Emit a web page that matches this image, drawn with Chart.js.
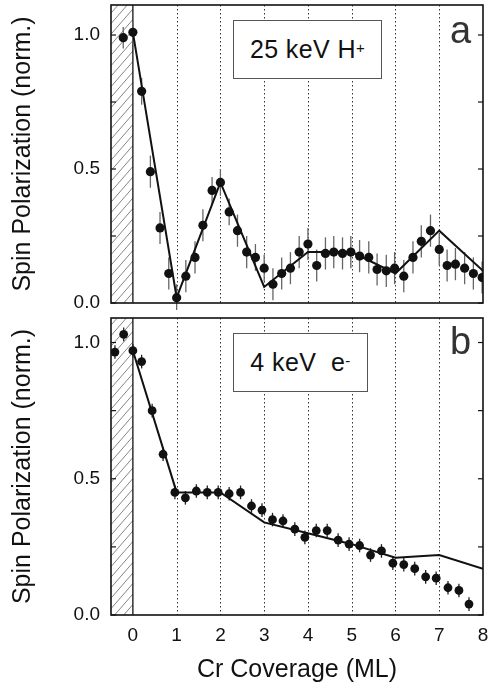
<!DOCTYPE html>
<html><head><meta charset="utf-8">
<script src="https://cdn.jsdelivr.net/npm/chart.js@4"></script>
<style>
html,body{margin:0;padding:0;background:#fff;}
body{width:489px;height:687px;overflow:hidden;position:relative;font-family:"Liberation Sans",Arial,Helvetica,sans-serif;}
canvas{position:absolute;left:0;}
#ca{top:0;}
#cb{top:310px;}
.box{position:absolute;border:1.5px solid #555;background:#fff;color:#111;font-size:25px;letter-spacing:0.4px;display:flex;align-items:center;justify-content:center;box-sizing:border-box;}
.box sup{font-size:15px;vertical-align:top;position:relative;top:-2px;}
.lab{position:absolute;font-size:38px;color:#333;line-height:1;}
</style></head>
<body>
<canvas id="ca" width="489" height="310"></canvas>
<canvas id="cb" width="489" height="377"></canvas>
<div class="box" style="left:233px;top:20px;width:149px;height:59px;">25 keV H<sup>+</sup></div>
<div class="box" style="left:233px;top:333px;width:135px;height:59px;">4 keV&nbsp;&nbsp;e<sup>-</sup></div>
<div class="lab" style="left:450px;top:11px;">a</div>
<div class="lab" style="left:450px;top:322px;">b</div>
<script>
// ---- Panel a: 25 keV H+ ----
const xA = [-0.22,0,0.2,0.4,0.62,0.82,1.0,1.21,1.42,1.6,1.81,2.0,2.2,2.39,2.6,2.8,3.0,3.2,3.4,3.6,3.8,4.0,4.2,4.4,4.59,4.79,4.98,5.18,5.39,5.58,5.79,5.98,6.19,6.4,6.59,6.8,7.0,7.18,7.37,7.58,7.78,7.98];
const yA = [0.99,1.01,0.79,0.49,0.28,0.11,0.02,0.10,0.17,0.29,0.42,0.45,0.34,0.27,0.19,0.17,0.13,0.07,0.11,0.13,0.19,0.22,0.14,0.185,0.19,0.185,0.19,0.175,0.17,0.125,0.12,0.13,0.10,0.17,0.23,0.27,0.20,0.14,0.145,0.13,0.11,0.095];
const errA = [0.04,0.04,0.05,0.06,0.06,0.06,0.05,0.06,0.06,0.06,0.05,0.05,0.05,0.06,0.06,0.05,0.05,0.06,0.06,0.06,0.06,0.06,0.06,0.06,0.06,0.06,0.06,0.06,0.06,0.06,0.06,0.06,0.06,0.06,0.06,0.06,0.06,0.06,0.06,0.06,0.06,0.06];
const lineXA = [0,1,2,3,4,5,6,7,8];
const lineYA = [1.01,0.02,0.45,0.06,0.19,0.19,0.11,0.27,0.12];
// ---- Panel b: 4 keV e- ----
const xB = [-0.41,-0.21,0,0.2,0.44,0.69,0.96,1.2,1.45,1.7,1.95,2.2,2.46,2.71,2.95,3.19,3.43,3.7,3.93,4.19,4.44,4.69,4.94,5.18,5.43,5.68,5.94,6.19,6.44,6.69,6.93,7.2,7.45,7.68];
const yB = [0.965,1.03,0.97,0.93,0.75,0.59,0.45,0.43,0.455,0.45,0.45,0.445,0.45,0.40,0.385,0.35,0.345,0.315,0.285,0.31,0.31,0.275,0.26,0.255,0.22,0.235,0.19,0.185,0.17,0.14,0.135,0.10,0.09,0.04];
const errB = [0.025,0.025,0.025,0.025,0.025,0.025,0.025,0.025,0.025,0.025,0.025,0.025,0.025,0.025,0.025,0.025,0.025,0.025,0.025,0.025,0.025,0.025,0.025,0.025,0.025,0.025,0.025,0.025,0.025,0.025,0.025,0.025,0.025,0.025];
const lineXB = [0,1,2,3,4,5,6,7,8];
const lineYB = [0.97,0.45,0.45,0.34,0.30,0.26,0.21,0.22,0.17];
// ---- axes ----
const xTicks = [0,1,2,3,4,5,6,7,8];
const gridX = [1,2,3,4,5,6,7];
const yTickLabels = [0,0.5,1.0];
const yMinorTicks = [0,0.25,0.5,0.75,1.0];
const yTitle = 'Spin Polarization (norm.)';
const xTitle = 'Cr Coverage (ML)';

const FONT = '"Liberation Sans", Arial, Helvetica, sans-serif';

const framePlugin = {
  id: 'frame',
  beforeDatasetsDraw(chart, args, opts) {
    const {ctx, chartArea: {left, right, top, bottom}, scales: {x, y}} = chart;
    const x0 = x.getPixelForValue(0);
    ctx.save();
    ctx.save();
    ctx.beginPath(); ctx.rect(left, top, x0 - left, bottom - top); ctx.clip();
    ctx.strokeStyle = '#666'; ctx.lineWidth = 0.8;
    const w = x0 - left, rise = w * 1.15;
    for (let k = bottom + rise; k > top - 5; k -= 10.5) {
      ctx.beginPath(); ctx.moveTo(left, k); ctx.lineTo(x0, k - rise); ctx.stroke();
    }
    ctx.restore();
    ctx.strokeStyle = '#333'; ctx.lineWidth = 1; ctx.setLineDash([1.5, 2.5]);
    gridX.forEach(v => {
      const px = Math.round(x.getPixelForValue(v)) + 0.5;
      ctx.beginPath(); ctx.moveTo(px, top); ctx.lineTo(px, bottom); ctx.stroke();
    });
    ctx.setLineDash([]);
    ctx.strokeStyle = '#111'; ctx.lineWidth = 1.3;
    ctx.beginPath(); ctx.moveTo(x0, top); ctx.lineTo(x0, bottom); ctx.stroke();
    const ex = opts.ex, ey = opts.ey, ee = opts.ee;
    ctx.strokeStyle = opts.errColor; ctx.lineWidth = opts.errWidth;
    for (let i = 0; i < ex.length; i++) {
      const px = x.getPixelForValue(ex[i]);
      ctx.beginPath();
      ctx.moveTo(px, y.getPixelForValue(ey[i] - ee[i]));
      ctx.lineTo(px, y.getPixelForValue(ey[i] + ee[i]));
      ctx.stroke();
    }
    ctx.restore();
  },
  afterDraw(chart) {
    const {ctx, chartArea: {left, right, top, bottom}, scales: {y}} = chart;
    ctx.save();
    ctx.strokeStyle = '#111'; ctx.lineWidth = 1.6;
    ctx.strokeRect(left, top, right - left, bottom - top);
    ctx.lineWidth = 1.2;
    yMinorTicks.forEach(v => {
      const py = y.getPixelForValue(v);
      ctx.beginPath(); ctx.moveTo(left, py); ctx.lineTo(left + 5, py); ctx.stroke();
      ctx.beginPath(); ctx.moveTo(right, py); ctx.lineTo(right - 5, py); ctx.stroke();
    });
    ctx.restore();
  }
};

function makeChart(id, px, py, pe, lx, ly, ymax, showX, padTop, padBottom, xHeight, errColor, errWidth, pr) {
  return new Chart(document.getElementById(id), {
    type: 'scatter',
    data: {
      datasets: [
        { type: 'line', data: lx.map((v, i) => ({x: v, y: ly[i]})), borderColor: '#111', borderWidth: 2,
          pointRadius: 0, fill: false, tension: 0, order: 2 },
        { data: px.map((v, i) => ({x: v, y: py[i]})), backgroundColor: '#111', borderColor: '#111',
          pointRadius: pr, pointHoverRadius: pr, borderWidth: 0, order: 1 }
      ]
    },
    options: {
      responsive: false, animation: false, events: [],
      layout: { padding: { top: padTop, bottom: padBottom, left: 0, right: 6 } },
      plugins: { legend: { display: false }, tooltip: { enabled: false },
        frame: { ex: px, ey: py, ee: pe, errColor, errWidth } },
      scales: {
        x: {
          type: 'linear', min: -0.5, max: 8, display: showX,
          afterBuildTicks: s => { s.ticks = xTicks.map(v => ({value: v})); },
          afterFit: s => { if (showX) s.height = xHeight; s.paddingLeft = 0; s.paddingRight = 0; },
          grid: { display: false, drawTicks: false },
          border: { display: false },
          ticks: { color: '#111', font: { family: FONT, size: 19 }, padding: 9, maxRotation: 0,
                   callback: v => String(v) },
          title: { display: showX, text: xTitle, color: '#111', font: { family: FONT, size: 25 },
                   padding: { top: 0, bottom: 2 } }
        },
        y: {
          type: 'linear', min: 0, max: ymax,
          afterBuildTicks: s => { s.ticks = yTickLabels.map(v => ({value: v})); },
          afterFit: s => { s.width = 111; s.paddingTop = 0; s.paddingBottom = 0; },
          grid: { display: false, drawTicks: false },
          border: { display: false },
          ticks: { color: '#111', font: { family: FONT, size: 19 }, padding: 11,
                   callback: v => Number(v).toFixed(1) },
          title: { display: true, text: yTitle, color: '#111', font: { family: FONT, size: 25 },
                   padding: { top: 8, bottom: 0 } }
        }
      }
    },
    plugins: [framePlugin]
  });
}

makeChart('ca', xA, yA, errA, lineXA, lineYA, 1.112, false, 5, 7, 0, '#666', 1.3, 4.6);
makeChart('cb', xB, yB, errB, lineXB, lineYB, 1.09, true, 8, 0, 72, '#222', 1.3, 4.4);
</script>
</body></html>
